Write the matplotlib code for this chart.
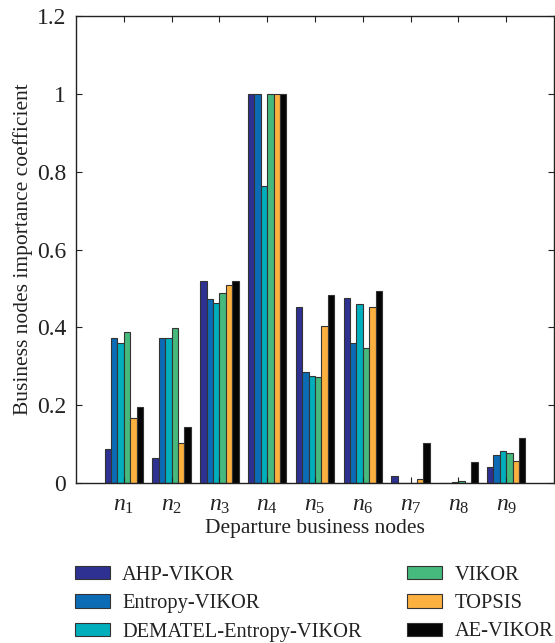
import numpy as np
import matplotlib
matplotlib.use("Agg")
import matplotlib.pyplot as plt
from matplotlib.patches import Patch

plt.rcParams['font.family'] = ['Liberation Serif', 'DejaVu Serif']
plt.rcParams['mathtext.fontset'] = 'custom'
plt.rcParams['mathtext.rm'] = 'Liberation Serif'
plt.rcParams['mathtext.it'] = 'Liberation Serif:italic'

nodes = ["$n_1$", "$n_2$", "$n_3$", "$n_4$", "$n_5$", "$n_6$", "$n_7$", "$n_8$", "$n_9$"]
methods = ["AHP-VIKOR", "Entropy-VIKOR", "DEMATEL-Entropy-VIKOR", "VIKOR", "TOPSIS", "AE-VIKOR"]

ahp_vikor     = [0.087, 0.065, 0.520, 1.000, 0.453, 0.476, 0.019, 0.001, 0.042]
entropy_vikor = [0.372, 0.372, 0.472, 1.000, 0.286, 0.359, 0.001, 0.001, 0.072]
dematel_vikor = [0.361, 0.372, 0.462, 0.763, 0.276, 0.460, 0.001, 0.002, 0.082]
vikor         = [0.388, 0.398, 0.489, 1.000, 0.272, 0.346, 0.001, 0.005, 0.077]
topsis        = [0.168, 0.104, 0.510, 1.000, 0.404, 0.452, 0.009, 0.000, 0.056]
ae_vikor      = [0.196, 0.145, 0.519, 1.000, 0.484, 0.494, 0.103, 0.055, 0.116]

series = [ahp_vikor, entropy_vikor, dematel_vikor, vikor, topsis, ae_vikor]
colors = ["#2e3192", "#0b6cb5", "#00aebc", "#46b97c", "#fbb040", "#050505"]

fig = plt.figure(figsize=(5.55, 6.43), dpi=100)
ax = fig.add_axes([76/555, 1 - 483/643, (554 - 76)/555, (483 - 16)/643])

x = np.arange(1, len(nodes) + 1)
w = 0.8 / 6
for i, (vals, c) in enumerate(zip(series, colors)):
    ax.bar(x + (i - 2.5) * w, vals, width=w, color=c, edgecolor="#333333",
           linewidth=0.8, label=methods[i])

ax.set_xlim(0, 10)
ax.set_ylim(0, 1.2)
ax.set_xticks(x)
ax.set_xticklabels(nodes, fontsize=17)
yt = [0, 0.2, 0.4, 0.6, 0.8, 1.0, 1.2]
ax.set_yticks(yt)
ax.set_yticklabels(["0", "0.2", "0.4", "0.6", "0.8", "1", "1.2"], fontsize=17)
ax.tick_params(direction="in", top=True, right=True, length=4, width=0.8, colors="#222222",
               labelcolor="#222222")
ax.tick_params(axis="y", pad=7)
ax.tick_params(axis="x", pad=9)
for s in ax.spines.values():
    s.set_linewidth(1.0)
    s.set_color("#222222")
ax.set_xlabel("Departure business nodes", fontsize=15.5, color="#222222", labelpad=2)
ax.set_ylabel("Business nodes importance coefficient", fontsize=15.5, color="#222222", labelpad=3)

handles = [Patch(facecolor=c, edgecolor="#333333", linewidth=0.8) for c in colors]
fig.legend(handles, methods, loc="upper left", bbox_to_anchor=(75/555, 1 - 566/643),
           ncol=2, frameon=False, fontsize=14.8, handlelength=1.7, handleheight=0.6,
           columnspacing=2.2, labelspacing=0.45, handletextpad=0.6, borderpad=0,
           borderaxespad=0, labelcolor="#222222")

fig.savefig("out.png", dpi=100)
